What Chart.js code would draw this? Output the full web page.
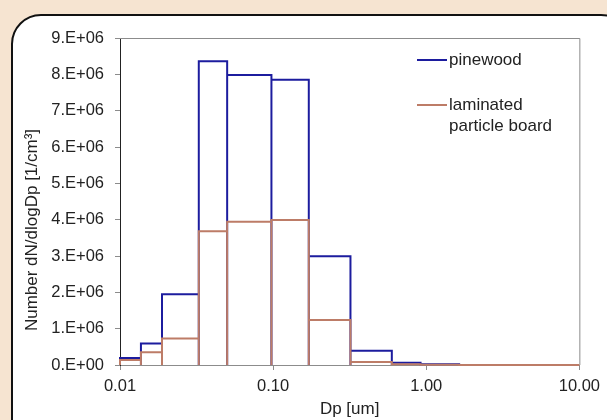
<!DOCTYPE html>
<html>
<head>
<meta charset="utf-8">
<script src="https://cdn.jsdelivr.net/npm/chart.js@4.4.1/dist/chart.umd.min.js"></script>
<style>
  html, body { margin: 0; padding: 0; }
  body { width: 607px; height: 420px; background: #f6e4d1; position: relative; overflow: hidden; font-family: "Liberation Sans", Arial, sans-serif; }
  #frame { position: absolute; left: 11px; top: 14px; width: 620px; height: 440px; border: 2px solid #111; border-radius: 30px; background: #fff; box-sizing: border-box; }
  #wrap { position: absolute; left: 0; top: 0; width: 607px; height: 420px; }
</style>
</head>
<body>
<div id="frame"></div>
<div id="wrap"><canvas id="c" width="607" height="420"></canvas></div>
<script>
// ---- data ----
const binEdges = [0.01, 0.0137, 0.0188, 0.0327, 0.0501, 0.0975, 0.171, 0.32, 0.596, 0.918, 1.64, 10];
const pinewood = [0.19e6, 0.59e6, 1.95e6, 8.36e6, 7.98e6, 7.85e6, 2.99e6, 0.39e6, 0.06e6, 0.02e6];
const laminated = [0.14e6, 0.35e6, 0.73e6, 3.68e6, 3.94e6, 3.99e6, 1.24e6, 0.08e6, 0.02e6, 0.005e6, 0];
const seriesNames = ['pinewood', 'laminated\nparticle board'];
const xTickValues = [0.01, 0.1, 1, 10];
const xTickLabels = ['0.01', '0.10', '1.00', '10.00'];
const yTickLabels = ['0.E+00','1.E+06','2.E+06','3.E+06','4.E+06','5.E+06','6.E+06','7.E+06','8.E+06','9.E+06'];
const xTitle = 'Dp [um]';
const yTitle = 'Number dN/dlogDp [1/cm\u00B3]';

// build rectangle outlines for each bin (histogram drawn as boxes)
function boxes(values) {
  const pts = [];
  values.forEach((v, i) => {
    pts.push({x: binEdges[i], y: 0});
    pts.push({x: binEdges[i], y: v});
    pts.push({x: binEdges[i + 1], y: v});
    pts.push({x: binEdges[i + 1], y: 0});
  });
  return pts;
}

const BLUE = '#1c1c9e';
const BROWN = '#bd7c67';
const FONT = "'Liberation Sans', Arial, sans-serif";

const framePlugin = {
  id: 'frameAndLegend',
  beforeDatasetsDraw(chart) {
    const {ctx, chartArea: a} = chart;
    ctx.save();
    ctx.strokeStyle = '#8c8c8c';
    ctx.lineWidth = 1;
    ctx.beginPath();
    ctx.moveTo(a.left, a.top + 0.5);
    ctx.lineTo(a.right + 0.5, a.top + 0.5);
    ctx.lineTo(a.right + 0.5, a.bottom);
    ctx.stroke();
    ctx.restore();
  },
  afterDraw(chart) {
    const ctx = chart.ctx;
    ctx.save();
    // y title
    ctx.fillStyle = '#222';
    ctx.font = '17px ' + FONT;
    ctx.textAlign = 'center';
    ctx.textBaseline = 'middle';
    ctx.translate(32.5, 230);
    ctx.rotate(-Math.PI / 2);
    ctx.fillText(yTitle, 0, 0);
    ctx.restore();
    // legend
    ctx.save();
    ctx.font = '17px ' + FONT;
    ctx.textAlign = 'left';
    ctx.textBaseline = 'middle';
    ctx.fillStyle = '#222';
    const items = [{c: BLUE, y: 60}, {c: BROWN, y: 105}];
    items.forEach((it, i) => {
      ctx.strokeStyle = it.c;
      ctx.lineWidth = 2;
      ctx.beginPath();
      ctx.moveTo(417, it.y);
      ctx.lineTo(447, it.y);
      ctx.stroke();
      seriesNames[i].split('\n').forEach((line, k) => {
        ctx.fillText(line, 449, it.y + k * 21);
      });
    });
    ctx.restore();
  }
};

new Chart(document.getElementById('c'), {
  type: 'scatter',
  data: {
    datasets: [
      { label: 'pinewood', data: boxes(pinewood), showLine: true, borderColor: BLUE, borderWidth: 2, pointRadius: 0, tension: 0, fill: false, clip: 5, order: 1 },
      { label: 'laminated particle board', data: boxes(laminated), showLine: true, borderColor: BROWN, borderWidth: 2, pointRadius: 0, tension: 0, fill: false, clip: 5, order: 0 }
    ]
  },
  options: {
    responsive: false,
    animation: false,
    events: [],
    layout: { padding: { left: 0, right: 25, top: 38, bottom: 0 } },
    plugins: { legend: { display: false }, tooltip: { enabled: false } },
    scales: {
      x: {
        type: 'logarithmic',
        min: 0.01,
        max: 10,
        afterBuildTicks(scale) { scale.ticks = xTickValues.map(v => ({value: v, major: true})); },
        afterFit(scale) { scale.height = 55; },
        border: { display: true, color: '#8c8c8c', width: 1 },
        grid: { display: true, drawOnChartArea: false, drawTicks: true, tickLength: 5, color: '#8c8c8c' },
        ticks: {
          autoSkip: false, maxRotation: 0, padding: 7, color: '#222',
          font: { family: FONT, size: 16.5 },
          callback(v, i) { return xTickLabels[i]; }
        },
        title: { display: true, text: xTitle, color: '#222', font: { family: FONT, size: 17 }, padding: { top: 0, bottom: 0 } }
      },
      y: {
        type: 'linear',
        min: 0,
        max: 9e6,
        afterFit(scale) { scale.width = 120; },
        border: { display: true, color: '#222', width: 1 },
        grid: { display: true, drawOnChartArea: false, drawTicks: true, tickLength: 5, color: '#8c8c8c' },
        ticks: {
          stepSize: 1e6, padding: 11, color: '#222',
          font: { family: FONT, size: 16.5 },
          callback(v) { return yTickLabels[Math.round(v / 1e6)]; }
        }
      }
    }
  },
  plugins: [framePlugin]
});
</script>
</body>
</html>
